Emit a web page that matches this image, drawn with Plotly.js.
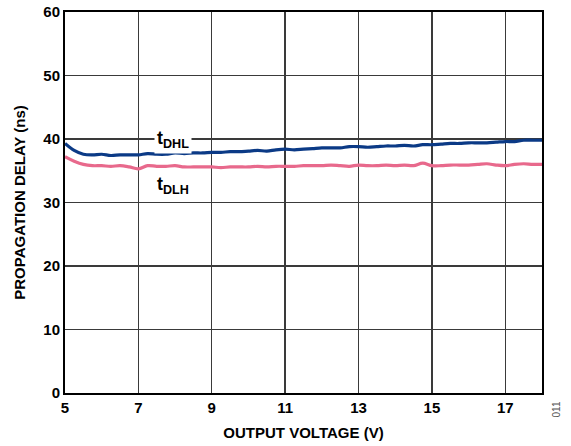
<!DOCTYPE html>
<html><head><meta charset="utf-8">
<script src="https://cdn.plot.ly/plotly-3.0.1.min.js"></script>
<style>html,body{margin:0;padding:0;background:#fff}#chart{width:571px;height:446px}</style>
</head><body><div id="chart"></div>
<script>
const voltage = [5.0,5.25,5.5,5.75,6.0,6.25,6.5,6.75,7.0,7.25,7.5,7.75,8.0,8.25,8.5,8.75,9.0,9.25,9.5,9.75,10.0,10.25,10.5,10.75,11.0,11.25,11.5,11.75,12.0,12.25,12.5,12.75,13.0,13.25,13.5,13.75,14.0,14.25,14.5,14.75,15.0,15.25,15.5,15.75,16.0,16.25,16.5,16.75,17.0,17.25,17.5,17.75,18.0];
const tDHL = [39.3,38.2,37.6,37.5,37.6,37.4,37.5,37.5,37.5,37.7,37.6,37.6,37.8,37.7,37.8,37.8,37.9,37.9,38.0,38.0,38.1,38.2,38.1,38.3,38.4,38.3,38.4,38.5,38.6,38.6,38.6,38.8,38.8,38.7,38.8,38.9,38.9,39.0,38.9,39.1,39.1,39.2,39.3,39.3,39.4,39.4,39.4,39.5,39.6,39.6,39.8,39.8,39.8];
const tDLH = [37.2,36.5,36.0,35.8,35.8,35.7,35.8,35.6,35.3,35.8,35.7,35.7,35.8,35.6,35.6,35.6,35.6,35.5,35.6,35.6,35.6,35.7,35.6,35.7,35.7,35.7,35.8,35.8,35.8,35.9,35.8,35.7,35.9,35.8,35.8,35.9,35.8,35.9,35.8,36.2,35.8,35.8,35.9,35.9,35.9,36.0,36.1,35.9,35.8,36.0,36.1,36.0,36.0];
const xTicks = [5,7,9,11,13,15,17];
const yTicks = [0,10,20,30,40,50,60];
const seriesLabels = ["<b>t<sub>DHL</sub></b>", "<b>t<sub>DLH</sub></b>"];

const FONT = "Arial, 'Liberation Sans', sans-serif";
const traces = [
  {x: voltage, y: tDHL, mode: 'lines', line: {color: '#0b3a86', width: 3.2, shape: 'spline'}, hoverinfo: 'skip'},
  {x: voltage, y: tDLH, mode: 'lines', line: {color: '#e8698c', width: 3.2, shape: 'spline'}, hoverinfo: 'skip'}
];
const axisCommon = {
  showline: true, linecolor: '#000', linewidth: 2, mirror: true,
  showgrid: true, gridcolor: '#3a3a3a', gridwidth: 1.3,
  zeroline: false, ticks: '',
  tickfont: {family: FONT, size: 15, color: '#000', weight: 'bold'}
};
const layout = {
  width: 571, height: 446,
  margin: {l: 65, r: 29, t: 12, b: 53},
  paper_bgcolor: '#fff', plot_bgcolor: '#fff',
  showlegend: false,
  xaxis: Object.assign({}, axisCommon, {
    range: [5, 18], tickvals: xTicks, ticktext: xTicks.map(String),
    title: {text: 'OUTPUT VOLTAGE (V)', font: {family: FONT, size: 15, color: '#000', weight: 'bold'}, standoff: 12}
  }),
  yaxis: Object.assign({}, axisCommon, {
    range: [0, 60], tickvals: yTicks, ticktext: yTicks.map(String),
    title: {text: 'PROPAGATION DELAY (ns)', font: {family: FONT, size: 15, color: '#000', weight: 'bold'}, standoff: 14}
  }),
  annotations: [
    {x: 7.95, y: 40, xref: 'x', yref: 'y', text: seriesLabels[0], showarrow: false,
     font: {family: FONT, size: 18, color: '#000'}, bgcolor: '#fff', borderpad: 2},
    {x: 7.95, y: 32.6, xref: 'x', yref: 'y', text: seriesLabels[1], showarrow: false,
     font: {family: FONT, size: 18, color: '#000'}},
    {x: 0, y: 0, xref: 'paper', yref: 'paper', text: '011', showarrow: false, textangle: -90,
     font: {family: FONT, size: 10, color: '#555'}}
  ]
};
layout.annotations[2].x = (563 - 65) / (571 - 65 - 29);
layout.annotations[2].y = (393 - 420) / (446 - 12 - 53);
Plotly.newPlot('chart', traces, layout, {staticPlot: true, displayModeBar: false});
</script></body></html>
